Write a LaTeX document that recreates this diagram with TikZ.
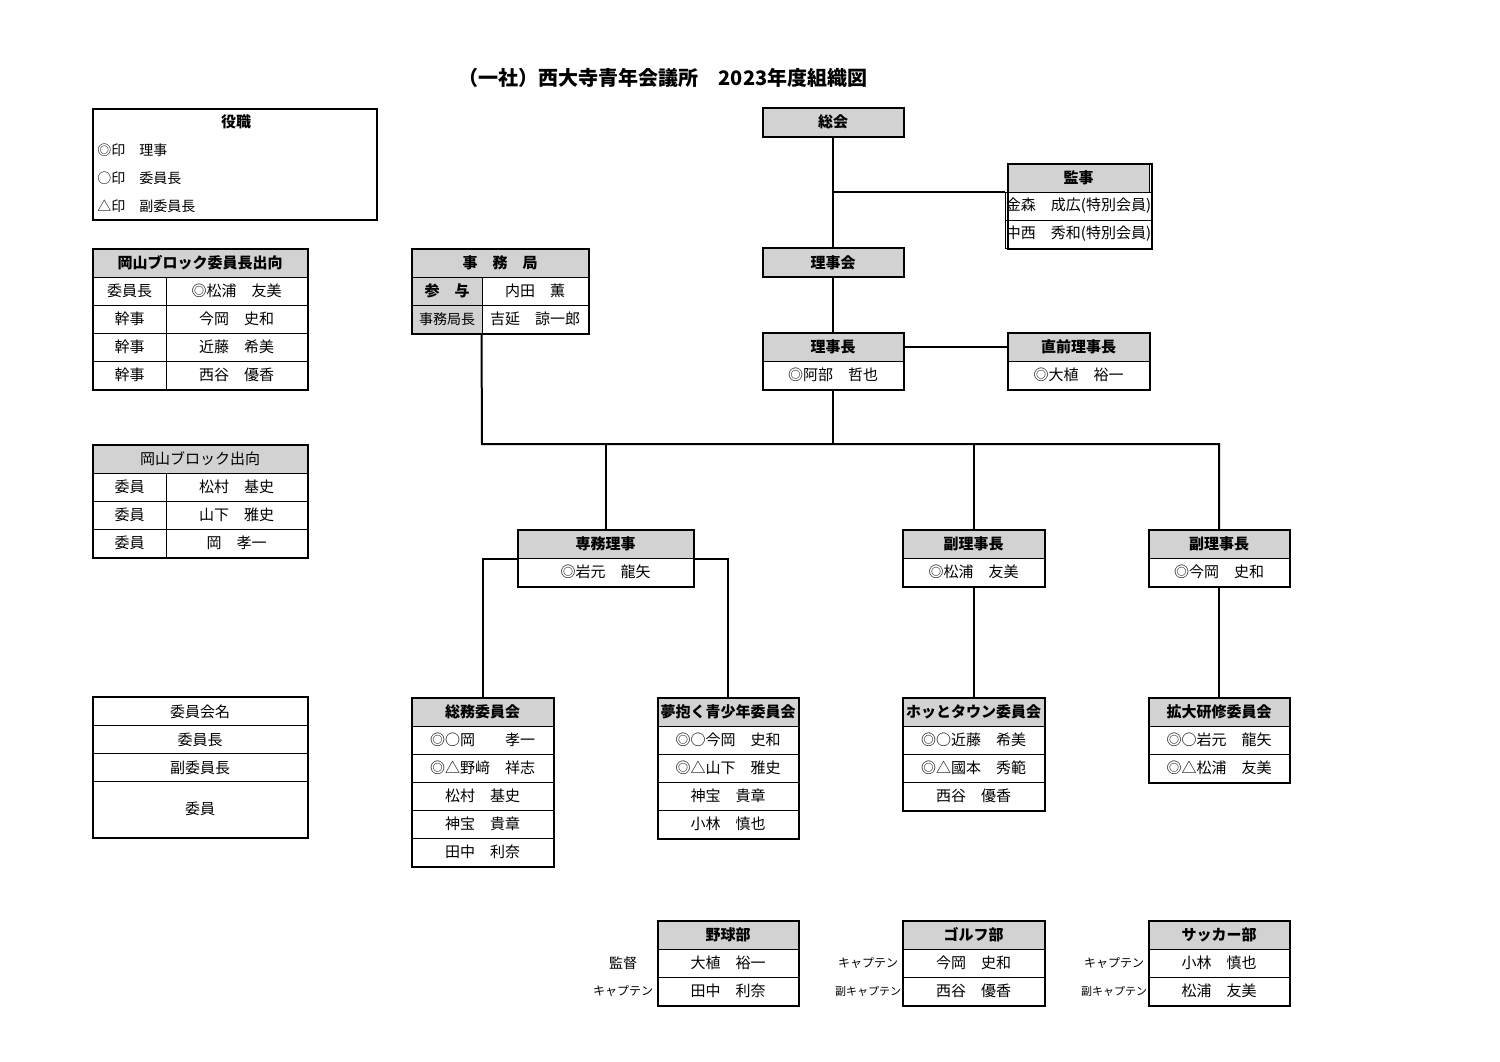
\documentclass[tikz,border=0pt]{standalone}
\usepackage{fontspec}
\setmainfont{Noto Sans CJK JP}
\begin{document}
\begin{tikzpicture}[x=0.5pt,y=-0.5pt,
  cell/.style={draw,line width=0.5pt,inner sep=0,minimum height=14pt,font=\fontsize{7.5pt}{8pt}\selectfont},
  hd/.style={cell,fill=gray!35,font=\fontsize{7.5pt}{8pt}\selectfont\bfseries},
  rw/.style={cell},
  outer/.style={line width=1pt},
  conn/.style={line width=1pt},
  lbl/.style={inner sep=0,font=\fontsize{7pt}{8pt}\selectfont},
  slbl/.style={inner sep=0,font=\fontsize{6pt}{7pt}\selectfont}]
\useasboundingbox (0,0) rectangle (1500,1061);
\newcommand\obox[7]{% name, cx, ytop, w, header, n, rows
  \node[hd,minimum width=#4*0.5pt] (#1) at (#2,#3+14) {#5};
  \foreach \t [count=\i] in {#7} \node[rw,minimum width=#4*0.5pt] (#1-\i) at (#2,#3+14+28*\i) {\t};
  \draw[outer] (#1.north west) rectangle (#1-#6.south east);}
% title
\node[inner sep=0,font=\fontsize{10pt}{12pt}\selectfont\bfseries] (title) at (663,78) {（一社）西大寺青年会議所　2023年度組織図};
% legend
\draw[outer] (93,109) rectangle (377,220);
\node[inner sep=0,font=\fontsize{7.5pt}{8pt}\selectfont\bfseries] (lgh) at (236,122) {役職};
\node[lbl,anchor=west] (lg1) at (97,150) {◎印　理事};
\node[lbl,anchor=west] (lg2) at (97,178) {○印　委員長};
\node[lbl,anchor=west] (lg3) at (97,206) {△印　副委員長};
% top
\node[hd,minimum width=70pt] (soukai) at (833,122) {総会};
\draw[outer] (soukai.north west) rectangle (soukai.south east);
\obox{kanji}{1078.5}{164}{141}{監事}{2}{金森　成広(特別会員),中西　秀和(特別会員)}
\node[hd,minimum width=70pt] (rijikai) at (833,262.5) {理事会};
\draw[outer] (rijikai.north west) rectangle (rijikai.south east);
\obox{rijicho}{833}{333}{140}{理事長}{1}{◎阿部　哲也}
\obox{chokuzen}{1078.5}{333}{141}{直前理事長}{1}{◎大植　裕一}
% jimukyoku
\node[hd,minimum width=88pt] (jimu) at (500,263) {事　務　局};
\node[hd,minimum width=35pt] (jimu-a) at (447,291) {参　与};
\node[hd,minimum width=35pt,font=\fontsize{7pt}{8pt}\selectfont] (jimu-b) at (447,319) {事務局長};
\node[rw,minimum width=53pt] (jimu-c) at (535,291) {内田　薫};
\node[rw,minimum width=53pt] (jimu-d) at (535,319) {吉延　諒一郎};
\draw[outer] (jimu.north west) rectangle (jimu-d.south east);
% okayama blocks
\node[hd,minimum width=107pt] (okb) at (200,263) {岡山ブロック委員長出向};
\foreach \a/\b [count=\i] in {委員長/◎松浦　友美,幹事/今岡　史和,幹事/近藤　希美,幹事/西谷　優香}{
  \node[rw,minimum width=36.5pt] (okbl-\i) at (129.5,263+28*\i) {\a};
  \node[rw,minimum width=70.5pt] (okbr-\i) at (236.5,263+28*\i) {\b};}
\draw[outer] (okb.north west) rectangle (okbr-4.south east);
\node[hd,minimum width=107pt,font=\fontsize{7.5pt}{8pt}\selectfont] (okc) at (200,459) {岡山ブロック出向};
\foreach \a/\b [count=\i] in {委員/松村　基史,委員/山下　雅史,委員/岡　孝一}{
  \node[rw,minimum width=36.5pt] (okcl-\i) at (129.5,459+28*\i) {\a};
  \node[rw,minimum width=70.5pt] (okcr-\i) at (236.5,459+28*\i) {\b};}
\draw[outer] (okc.north west) rectangle (okcr-3.south east);
% committee legend
\node[rw,minimum width=107pt] (cl1) at (200,711.5) {委員会名};
\node[rw,minimum width=107pt] (cl2) at (200,739.5) {委員長};
\node[rw,minimum width=107pt] (cl3) at (200,767.5) {副委員長};
\node[rw,minimum width=107pt,minimum height=28pt] (cl4) at (200,809) {委員};
\draw[outer] (cl1.north west) rectangle (cl4.south east);
% second level
\obox{senmu}{605.5}{530}{175}{専務理事}{1}{◎岩元　龍矢}
\obox{fuku1}{973.5}{530}{141}{副理事長}{1}{◎松浦　友美}
\obox{fuku2}{1219}{530}{140}{副理事長}{1}{◎今岡　史和}
% committees
\obox{somu}{482.5}{698}{141}{総務委員会}{5}{◎○岡　　孝一,◎△野﨑　祥志,松村　基史,神宝　貴章,田中　利奈}
\obox{yume}{728}{698}{140}{夢抱く青少年委員会}{4}{◎○今岡　史和,◎△山下　雅史,神宝　貴章,小林　慎也}
\obox{hotto}{973.5}{698}{141}{ホッとタウン委員会}{3}{◎○近藤　希美,◎△國本　秀範,西谷　優香}
\obox{kakudai}{1219}{698}{140}{拡大研修委員会}{2}{◎○岩元　龍矢,◎△松浦　友美}
% clubs
\obox{yakyu}{728}{921}{140}{野球部}{2}{大植　裕一,田中　利奈}
\obox{golf}{973.5}{921}{141}{ゴルフ部}{2}{今岡　史和,西谷　優香}
\obox{soccer}{1219}{921}{140}{サッカー部}{2}{小林　慎也,松浦　友美}
\node[lbl] (y1) at (623,963) {監督};
\node[slbl] (y2) at (623,991) {キャプテン};
\node[slbl] (g1) at (868,963) {キャプテン};
\node[slbl,font=\fontsize{5.5pt}{6pt}\selectfont] (g2) at (868,991) {副キャプテン};
\node[slbl] (s1) at (1114,963) {キャプテン};
\node[slbl,font=\fontsize{5.5pt}{6pt}\selectfont] (s2) at (1114,991) {副キャプテン};
% connectors
\coordinate (b1) at (833,192);
\coordinate (hl) at (482,444);
\coordinate (hr) at (1219,444);
\draw[conn] (soukai.south) -- (rijikai.north);
\draw[conn] (b1) -- (kanji-1.north west |- b1);
\draw[conn] (rijikai.south) -- (rijicho.north);
\draw[conn] (rijicho.east) -- (chokuzen.west);
\draw[conn] (rijicho-1.south) -- (833,444);
\draw[conn] (jimu-c.south west |- jimu-d.south) -- (hl) -- (hr) -- (fuku2.north);
\draw[conn] (senmu.north |- hl) -- (senmu.north);
\draw[conn] (fuku1.north |- hl) -- (fuku1.north);
\draw[conn] (senmu.south west) -| (somu.north);
\draw[conn] (senmu.south east) -| (yume.north);
\draw[conn] (fuku1-1.south) -- (hotto.north);
\draw[conn] (fuku2-1.south) -- (kakudai.north);
\end{tikzpicture}
\end{document}
